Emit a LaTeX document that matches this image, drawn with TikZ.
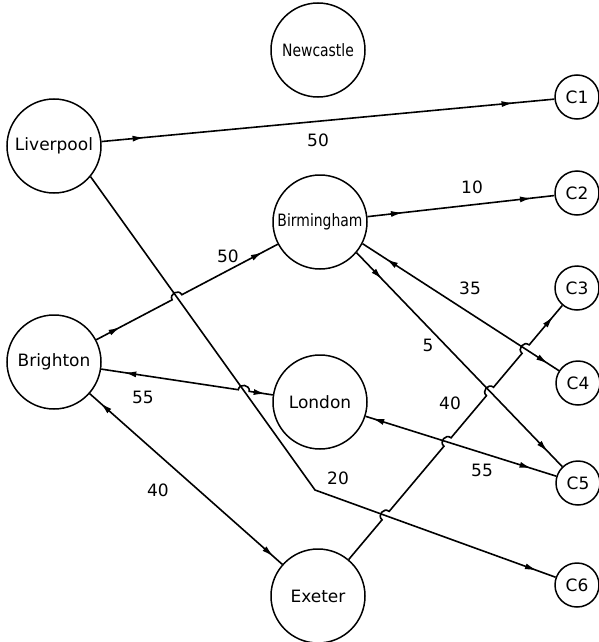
\documentclass[tikz,border=0pt]{standalone}
\usepackage{fontspec}
\setmainfont{DejaVu Sans}
\usetikzlibrary{arrows.meta,calc,intersections,decorations.markings}

\begin{document}
\begin{tikzpicture}[x=1pt,y=-1pt,
  town/.style={circle, draw, line width=1.5pt, minimum size=94pt, inner sep=0pt,
               font=\fontsize{17}{19}\selectfont},
  cust/.style={circle, draw, line width=1.5pt, minimum size=44pt, inner sep=0pt,
               font=\fontsize{17}{19}\selectfont},
  flow/.style={draw, line width=1.6pt},
  qty/.style={font=\fontsize{17}{19}\selectfont, inner sep=1pt},
  >={Latex[length=12pt,width=6pt]},
  hopbend/.style={bend left=90, looseness=1.6},
  twoahead/.style 2 args={decoration={markings,
      mark=at position #1 with {\arrow{>}},
      mark=at position #2 with {\arrow{>}}}, postaction={decorate}},
  backahead/.style 2 args={decoration={markings,
      mark=at position #1 with {\arrowreversed{>}},
      mark=at position #2 with {\arrow{>}}}, postaction={decorate}},
  oneahead/.style={decoration={markings,
      mark=at position #1 with {\arrow{>}}}, postaction={decorate}},
]
\useasboundingbox (0,0) rectangle (599,642);

% supply towns
\node[town] (Newcastle)  at (318,50)  {\scalebox{0.82}[1]{Newcastle}};
\node[town] (Liverpool)  at (54,146)  {Liverpool};
\node[town] (Birmingham) at (320,222) {\scalebox{0.82}[1]{Birmingham}};
\node[town] (Brighton)   at (54,362)  {Brighton};
\node[town] (London)     at (320,402) {London};
\node[town] (Exeter)     at (318,596) {Exeter};

% customers
\node[cust] (C1) at (577,97)  {C1};
\node[cust] (C2) at (577,193) {C2};
\node[cust] (C3) at (577,288) {C3};
\node[cust] (C4) at (578,383) {C4};
\node[cust] (C5) at (578,483) {C5};
\node[cust] (C6) at (577,585) {C6};

\coordinate (kink) at (315,490);

% straight routes, used to locate the crossings
\path[name path=lcpath] (Liverpool.-40) -- (kink) -- (C6);
\path[name path=bbpath] (Brighton) -- (Birmingham);
\path[name path=blpath] (Brighton) -- (London);
\path[name path=ecpath] (Exeter) -- (C3);
\path[name path=b4path] (Birmingham.-27) -- (C4);
\path[name path=b5path] (Birmingham.-40) -- (C5);
\path[name path=l5path] (London) -- (C5);
\path[name intersections={of=lcpath and bbpath, by=xA}];
\path[name intersections={of=lcpath and blpath, by=xB}];
\path[name intersections={of=ecpath and lcpath, by=xF}];
\path[name intersections={of=ecpath and l5path, by=xE}];
\path[name intersections={of=ecpath and b5path, by=xD}];
\path[name intersections={of=ecpath and b4path, by=xC}];

% routes drawn without hops
\draw[flow, twoahead={0.095}{0.91}] (Liverpool) -- (C1);
\draw[flow, oneahead=0.969] (Liverpool.-40) -- (kink) -- (C6);
\draw[flow, twoahead={0.19}{0.88}] (Birmingham) -- (C2);
\draw[flow, backahead={0.055}{0.955}] (Brighton) -- (Exeter);
\draw[flow, backahead={0.12}{0.945}] (Birmingham.-27) -- (C4);
\draw[flow, twoahead={0.125}{0.93}] (Birmingham.-40) -- (C5);
\draw[flow, backahead={0.035}{0.87}] (London) -- (C5);

% routes that hop over the lines they cross
\draw[flow, twoahead={0.13}{0.92}]
  (Brighton) -- ($(xA)!5.5pt!(Brighton)$) to[hopbend] ($(xA)!5.5pt!(Birmingham)$) -- (Birmingham);
\draw[flow, backahead={0.13}{0.96}]
  (Brighton) -- ($(xB)!5.5pt!(Brighton)$) to[hopbend] ($(xB)!5.5pt!(London)$) -- (London);
\draw[flow, oneahead=0.96]
  (Exeter) -- ($(xF)!5.5pt!(Exeter)$) to[hopbend] ($(xF)!5.5pt!(C3)$)
  -- ($(xE)!5.5pt!(Exeter)$) to[hopbend] ($(xE)!5.5pt!(C3)$)
  -- ($(xD)!5.5pt!(Exeter)$) to[hopbend] ($(xD)!5.5pt!(C3)$)
  -- ($(xC)!5.5pt!(Exeter)$) to[hopbend] ($(xC)!5.5pt!(C3)$)
  -- (C3);

% quantities
\node[qty] (q1)  at (318,140) {50};
\node[qty] (q2)  at (472,187) {10};
\node[qty] (q3)  at (228,256) {50};
\node[qty] (q4)  at (470,288) {35};
\node[qty] (q5)  at (428,345) {5};
\node[qty] (q6)  at (143,397) {55};
\node[qty] (q7)  at (450,403) {40};
\node[qty] (q8)  at (482,470) {55};
\node[qty] (q9)  at (338,478) {20};
\node[qty] (q10) at (158,490) {40};
\end{tikzpicture}
\end{document}
